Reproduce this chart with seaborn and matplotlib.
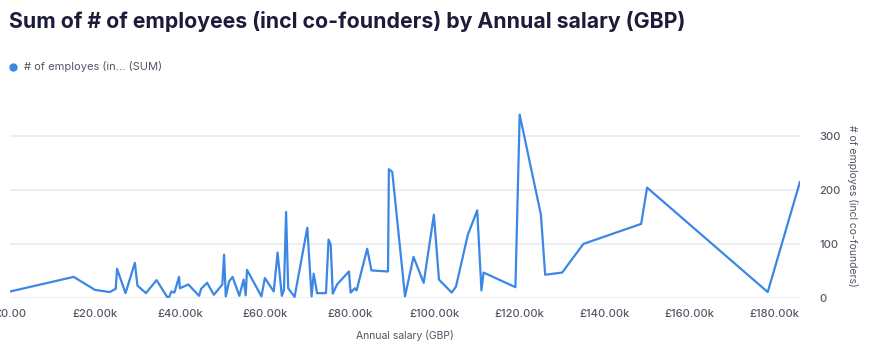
import numpy as np
import pandas as pd
import matplotlib
matplotlib.use("Agg")
import matplotlib.pyplot as plt
from matplotlib.ticker import FuncFormatter
from matplotlib.lines import Line2D
import seaborn as sns

# Annual salary (GBP, thousands) and summed # of employees
salary_k = [0, 15, 20, 23.5, 24.9, 25.2, 27.2, 29.4, 30, 32,
            34.5, 37, 37.5, 38, 38.7, 39.8, 40, 42, 44.5, 45,
            46.4, 48, 50, 50.4, 50.8, 51.6, 52.4, 54, 55, 55.5,
            55.8, 59.2, 60, 62.1, 63, 64, 64.5, 65, 65.5, 67,
            70, 71, 71.5, 72.3, 74.4, 75, 75.5, 76, 77, 79.8,
            80.2, 81.2, 81.6, 84.1, 85.1, 89, 89.2, 90, 93, 95,
            97.4, 99.8, 101, 104, 105, 107.8, 110, 111, 111.5, 119,
            120, 125, 126, 130, 135, 148.6, 150, 178.4, 186]
employees = [12, 39, 15, 11, 17, 54, 9, 65, 23, 9,
             33, 2, 2, 12, 10, 39, 18, 25, 4, 17,
             28, 6, 25, 80, 3, 31, 39, 4, 34, 5,
             52, 3, 37, 12, 84, 4, 15, 159, 18, 2,
             130, 3, 45, 9, 9, 108, 99, 8, 25, 49,
             10, 18, 14, 91, 51, 49, 238, 233, 3, 76,
             28, 154, 34, 10, 21, 117, 162, 14, 47, 20,
             339, 154, 43, 47, 100, 137, 204, 11, 215]
x_ticks_k = [0, 20, 40, 60, 80, 100, 120, 140, 160, 180]
y_ticks = [0, 100, 200, 300]

title = "Sum of # of employees (incl co-founders) by Annual salary (GBP)"
legend_label = "# of employes (in... (SUM)"
x_label = "Annual salary (GBP)"
y_label = "# of employes (incl co-founders)"

line_color = "#3b87e6"
dark = "#1c1b3a"
gray = "#555566"
grid_color = "#ececf1"

df = pd.DataFrame({"salary": np.array(salary_k) * 1000, "employees": employees})

sns.set_theme(style="white")
plt.rcParams["font.family"] = ["Inter", "Lato", "DejaVu Sans"]

fig = plt.figure(figsize=(8.88, 3.59), dpi=100)
ax = fig.add_axes([10 / 888, 61 / 359, 790 / 888, 185 / 359])

sns.lineplot(data=df, x="salary", y="employees", color=line_color,
             linewidth=1.6, ax=ax, legend=False)

ax.set_xlim(0, 186000)
ax.set_ylim(0, 342)
ax.set_xticks([v * 1000 for v in x_ticks_k])
ax.set_yticks(y_ticks)
ax.xaxis.set_major_formatter(FuncFormatter(
    lambda v, p: "£0.00" if v == 0 else f"£{v / 1000:.2f}k"))

ax.yaxis.tick_right()
ax.yaxis.set_label_position("right")
for s in ax.spines.values():
    s.set_visible(False)
ax.grid(axis="y", color=grid_color, linewidth=1.3)
ax.grid(axis="x", visible=False)
ax.set_axisbelow(True)

ax.tick_params(axis="x", colors=grid_color, length=5, width=1.3, pad=3,
               labelcolor=gray, labelsize=8)
ax.tick_params(axis="y", length=0, pad=14, labelcolor=gray, labelsize=8)
for lab in ax.get_xticklabels() + ax.get_yticklabels():
    lab.set_fontweight("medium")

ax.set_xlabel(x_label, color=gray, fontsize=7.5, labelpad=8)
ax.set_ylabel(y_label, color=gray, fontsize=7.5, rotation=270, labelpad=12)

fig.text(9 / 888, 1 - 22 / 359, title, fontsize=15.3, fontweight="bold",
         color=dark, va="center", ha="left")

handle = Line2D([], [], marker="o", linestyle="", color=line_color, markersize=5)
fig.legend(handles=[handle], labels=[legend_label], loc="center left",
           bbox_to_anchor=(7 / 888, 1 - 67 / 359), frameon=False,
           borderaxespad=0, borderpad=0, handletextpad=0.5,
           fontsize=8, labelcolor=gray, handlelength=1)

fig.savefig("out.png", dpi=100)
